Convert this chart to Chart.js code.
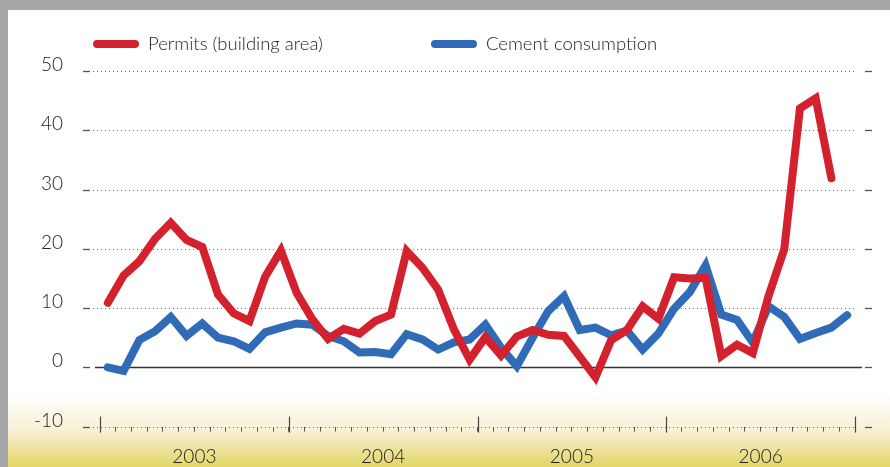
<!DOCTYPE html>
<html>
<head>
<meta charset="utf-8">
<script src="https://cdn.jsdelivr.net/npm/chart.js@4.4.1/dist/chart.umd.min.js"></script>
<style>
  html, body { margin: 0; padding: 0; background: #fff; }
  canvas { display: block; }
</style>
</head>
<body>
<canvas id="grafico" width="890" height="467"></canvas>
<script>
const years = ['2003', '2004', '2005', '2006'];
const seriesNames = ['Permits (building area)', 'Cement consumption'];
const yTicks = [-10, 0, 10, 20, 30, 40, 50];

// monthly values, Jan 2003 onward
const permits = [
  10.9, 15.5, 17.9, 21.7, 24.4, 21.5, 20.3, 12.3, 9.1, 7.8, 15.3, 19.7,
  12.6, 8.1, 4.8, 6.5, 5.7, 7.8, 8.9, 19.6, 16.8, 13.1, 6.4, 1.3,
  5.1, 2.0, 5.2, 6.3, 5.5, 5.3, 1.8, -1.7, 4.6, 6.3, 10.3, 8.2,
  15.2, 15.0, 15.1, 1.9, 3.8, 2.4, 12.0, 19.9, 43.7, 45.4, 31.9
];
const cement = [
  0.0, -0.6, 4.6, 6.1, 8.5, 5.3, 7.4, 5.0, 4.4, 3.1, 5.9, 6.7,
  7.4, 7.2, 5.3, 4.4, 2.5, 2.6, 2.2, 5.6, 4.7, 3.0, 4.2, 4.7,
  7.2, 3.3, 0.2, 5.0, 9.5, 12.0, 6.3, 6.7, 5.4, 6.2, 3.0, 5.7,
  9.9, 12.7, 17.2, 8.9, 8.0, 4.2, 10.3, 8.5, 4.8, 5.8, 6.7, 8.8
];

const FUENTE = "Lato, 'Open Sans', sans-serif";
const TINTA = '#222';

function linea(ctx, x1, y1, x2, y2) {
  ctx.beginPath();
  ctx.moveTo(x1, y1);
  ctx.lineTo(x2, y2);
  ctx.stroke();
}

const fondo = {
  id: 'fondo',
  beforeDraw(chart) {
    const ctx = chart.ctx;
    ctx.save();
    ctx.fillStyle = '#a7a7a9';
    ctx.fillRect(0, 0, chart.width, chart.height);
    ctx.fillStyle = '#ffffff';
    ctx.fillRect(8, 10, chart.width - 8, 383);
    const g = ctx.createLinearGradient(0, 393, 0, chart.height);
    g.addColorStop(0, '#ffffff');
    g.addColorStop(0.5, '#f7f1d6');
    g.addColorStop(1, '#e4d566');
    ctx.fillStyle = g;
    ctx.fillRect(8, 393, chart.width - 8, chart.height - 393);
    ctx.restore();
  }
};

const guias = {
  id: 'guias',
  beforeDatasetsDraw(chart) {
    const { ctx, scales: { x, y }, chartArea: a } = chart;
    ctx.save();
    y.ticks.forEach(t => {
      const py = Math.round(y.getPixelForValue(t.value)) + 0.5;
      ctx.setLineDash([]);
      ctx.strokeStyle = '#555';
      ctx.lineWidth = 1.3;
      linea(ctx, a.left - 17, py, a.left - 10, py);
      linea(ctx, a.right + 10, py, a.right + 17, py);
      if (t.value === 0) {
        ctx.strokeStyle = '#333';
        ctx.lineWidth = 1.6;
        linea(ctx, a.left - 5, py, a.right + 7, py);
      } else {
        ctx.strokeStyle = '#666';
        ctx.lineWidth = 1;
        ctx.setLineDash([1, 3]);
        linea(ctx, a.left - 7, py, a.right + 2, py);
      }
    });
    ctx.setLineDash([]);
    ctx.strokeStyle = '#444';
    ctx.lineWidth = 1.2;
    for (let m = 0; m <= 48; m += 12) {
      const px = Math.round(x.getPixelForValue(m)) + 0.5;
      linea(ctx, px, a.bottom - 10, px, a.bottom + 6);
    }
    ctx.restore();
  }
};

const leyenda = {
  id: 'leyenda',
  afterDraw(chart, args, opts) {
    const ctx = chart.ctx;
    chart.data.datasets.forEach((ds, i) => {
      const x0 = opts.x[i];
      ctx.save();
      ctx.strokeStyle = ds.borderColor;
      ctx.lineWidth = 8;
      ctx.lineCap = 'round';
      linea(ctx, x0 + 4, opts.y, x0 + 42, opts.y);
      ctx.fillStyle = TINTA;
      ctx.font = '300 18.5px ' + FUENTE;
      ctx.textBaseline = 'middle';
      ctx.fillText(ds.label, x0 + 55, opts.y);
      ctx.restore();
    });
  }
};

const ctx = document.getElementById('grafico').getContext('2d');
new Chart(ctx, {
  type: 'line',
  data: {
    datasets: [
      {
        label: seriesNames[0],
        data: permits.map((v, i) => ({ x: i + 0.5, y: v })),
        borderColor: '#d3212d',
        borderWidth: 8,
        borderCapStyle: 'round',
        borderJoinStyle: 'miter',
        pointRadius: 0,
        tension: 0
      },
      {
        label: seriesNames[1],
        data: cement.map((v, i) => ({ x: i + 0.5, y: v })),
        borderColor: '#2f6bb6',
        borderWidth: 8,
        borderCapStyle: 'round',
        borderJoinStyle: 'miter',
        pointRadius: 0,
        tension: 0
      }
    ]
  },
  options: {
    responsive: false,
    animation: false,
    devicePixelRatio: 1,
    layout: { padding: { top: 71, right: 35, left: 0, bottom: 0 } },
    plugins: {
      legend: { display: false },
      tooltip: { enabled: false },
      leyenda: { x: [93, 431], y: 44 }
    },
    scales: {
      x: {
        type: 'linear',
        min: 0,
        max: 48,
        afterBuildTicks: s => { s.ticks = Array.from({ length: 49 }, (_, i) => ({ value: i })); },
        afterFit: s => { s.height = 40; },
        grid: { drawOnChartArea: false, drawTicks: true, tickLength: 5, tickColor: '#555', tickWidth: 1 },
        border: { display: false },
        ticks: {
          autoSkip: false,
          maxRotation: 0,
          padding: 14,
          color: TINTA,
          font: { family: FUENTE, size: 19, weight: 300 },
          callback: v => (v % 12 === 6 ? years[(v - 6) / 12] : '')
        }
      },
      y: {
        min: -10,
        max: 50,
        afterBuildTicks: s => { s.ticks = yTicks.map(v => ({ value: v })); },
        afterFit: s => { s.width = 100; },
        grid: { display: false },
        border: { display: false },
        ticks: {
          padding: 29,
          labelOffset: -6,
          color: TINTA,
          font: { family: FUENTE, size: 19, weight: 300 }
        }
      }
    }
  },
  plugins: [fondo, guias, leyenda]
});
</script>
</body>
</html>
